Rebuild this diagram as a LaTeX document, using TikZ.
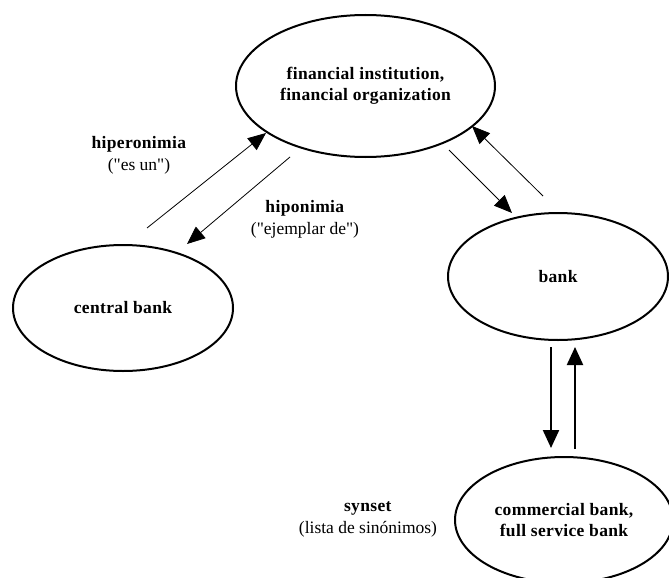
\documentclass[tikz,border=0pt]{standalone}
\usepackage{fontspec}
\setmainfont{Liberation Serif}
\usetikzlibrary{arrows.meta,shapes.geometric}
\begin{document}
\begin{tikzpicture}[x=1pt,y=-1pt,
  concept/.style={draw, ellipse, line width=2pt, inner sep=0pt, align=center,
    font=\bfseries\fontsize{17.5}{21.5}\selectfont\addfontfeature{LetterSpace=2}},
  note/.style={align=center, inner sep=0pt, font=\fontsize{17.5}{21.5}\selectfont},
  rel/.style={line width=0.8pt, -{Triangle[length=18pt,width=15pt]}},
  syn/.style={line width=2.2pt, -{Triangle[length=18pt,width=16pt]}}]
\useasboundingbox (0,0) rectangle (669,578);

% concepts
\node[concept, minimum width=259pt, minimum height=142pt] (fin) at (365.5,86)
  {financial institution,\\financial organization};
\node[concept, minimum width=220pt, minimum height=126pt] (central) at (123,308)
  {central bank};
\node[concept, minimum width=220pt, minimum height=127pt] (bank) at (558,276.5)
  {bank};
\node[concept, minimum width=218pt, minimum height=126pt] (comm) at (564,520)
  {commercial bank,\\full service bank};

% relation labels
\node[note] (hiper) at (139,155.5)
  {\textbf{\addfontfeature{LetterSpace=2}hiperonimia}\\(\textquotedbl es un\textquotedbl)};
\node[note] (hipo) at (305,219.5)
  {\textbf{\addfontfeature{LetterSpace=2}hiponimia}\\(\textquotedbl ejemplar de\textquotedbl)};
\node[note] (synset) at (368,519.5)
  {\textbf{\addfontfeature{LetterSpace=2}synset}\\(lista de sinónimos)};

% arrow end points
\coordinate (a1s) at (147,228);  \coordinate (a1e) at (266,133);
\coordinate (a2s) at (290,157);  \coordinate (a2e) at (187,244);
\coordinate (a3s) at (449,150);  \coordinate (a3e) at (512,213);
\coordinate (a4s) at (543,196);  \coordinate (a4e) at (472,126);
\coordinate (s1s) at (551,347);  \coordinate (s1e) at (551,448);
\coordinate (s2s) at (575,449);  \coordinate (s2e) at (575,347);

% hypernym / hyponym links
\draw[rel] (a1s) -- (a1e);
\draw[rel] (a2s) -- (a2e);
\draw[rel] (a3s) -- (a3e);
\draw[rel] (a4s) -- (a4e);

% synset links
\draw[syn] (s1s) -- (s1e);
\draw[syn] (s2s) -- (s2e);
\end{tikzpicture}
\end{document}
